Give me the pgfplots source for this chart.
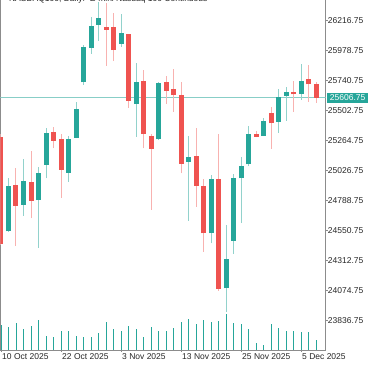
\documentclass[border=0pt]{standalone}
\usepackage{pgfplots}
\pgfplotsset{compat=1.18}
\usepackage{pgfplotstable}
\usepackage{fontspec}
\setmainfont{Liberation Sans}
\definecolor{upc}{HTML}{26A69A}
\definecolor{dnc}{HTML}{EF5350}
\definecolor{frame}{HTML}{8C8C8C}

% up candles: index, open, high, low, close
\pgfplotstableread{
i o h l c
1 24546 24966 24544 24908
3 24755 25120 24670 24947
5 24794 25054 24416 25011
6 25074 25368 24966 25323
9 25011 25300 24940 25278
10 25289 25574 25284 25514
11 25728 26020 25707 26010
12 26003 26244 25953 26177
13 26183 26365 26058 26236
16 26032 26270 26011 26117
18 25554 25884 25297 25733
21 25276 25733 25270 25720
25 25098 25302 24630 25133
28 24530 24993 24451 24959
30 24094 24596 23908 24326
31 24469 24998 24366 24966
32 24966 25138 24610 25066
33 25077 25381 25064 25316
35 25302 25447 25302 25423
37 25416 25673 25328 25609
38 25622 25688 25423 25649
40 25635 25873 25588 25738
}\up

% down candles: index, open, high, low, close
\pgfplotstableread{
i o h l c
0 25294 25318 24440 24445
2 24916 25046 24429 24749
4 24940 25183 24649 24789
7 25331 25376 25204 25265
8 25276 25318 24813 25035
14 26164 26357 25860 26143
15 26164 26275 25897 25984
17 26111 26115 25527 25582
19 25741 25826 25204 25316
20 25302 25318 24715 25201
22 25728 25778 25556 25661
23 25673 25834 25495 25627
24 25627 25728 25006 25080
26 25143 25368 24741 24908
27 24905 24961 24384 24530
29 24961 25316 24075 24088
34 25316 25342 25292 25297
36 25482 25535 25199 25403
39 25654 25738 25495 25633
41 25752 25865 25574 25712
42 25715 25733 25566 25606.75
}\dn

% volume (arbitrary units)
\pgfplotstableread{
i v
0 250
1 233
2 273
3 210
4 243
5 300
6 143
7 130
8 193
9 193
10 143
11 133
12 133
13 167
14 283
15 213
16 187
17 240
18 207
19 127
20 233
21 187
22 193
23 220
24 283
25 310
26 260
27 300
28 283
29 293
30 360
31 273
32 263
33 213
34 73
35 50
36 260
37 220
38 187
39 193
40 180
41 180
42 100
}\vol

\begin{document}
\begin{tikzpicture}
\pgfplotsset{
  base/.style={
    scale only axis, width=325.2pt, height=362pt,
    xmin=-0.0667, xmax=43.293,
    at={(0,0)}, anchor=south west,
  },
  candle/.style 2 args={draw=none, mark=none, forget plot,
    error bars/.cd, y dir=plus, y explicit, error mark=none,
    error bar style={draw=#1, line width=#2}},
}
% volume
\begin{axis}[base, hide axis, ymin=0, ymax=3620]
\addplot[ycomb, mark=none, draw=upc, line width=1pt] table[x=i,y=v] {\vol};
\end{axis}
% price
\begin{axis}[base,
  ymin=23604.3, ymax=26476.2,
  clip mode=individual,
  axis line style={draw=frame, line width=0.8pt},
  ytick={23836.75,24074.75,24312.75,24550.75,24788.75,25026.75,25264.75,25502.75,25740.75,25978.75,26216.75},
  yticklabels={23836.75,24074.75,24312.75,24550.75,24788.75,25026.75,25264.75,25502.75,25740.75,25978.75,26216.75},
  yticklabel pos=right,
  ytick pos=right,
  xtick={0,8,16,24,32,40},
  xticklabels={10 Oct 2025,22 Oct 2025,3 Nov 2025,13 Nov 2025,25 Nov 2025,5 Dec 2025},
  xtick pos=bottom,
  tick align=outside,
  major tick length=2pt,
  tick style={draw=frame, line width=0.6pt},
  ticklabel style={font=\fontsize{8.5}{10}\selectfont, text=black!85, inner sep=0pt},
  yticklabel style={anchor=west, xshift=0pt},
  xticklabel style={anchor=north west, xshift=1pt, yshift=-1pt},
]
% current price line
\addplot[draw=upc!55!white, line width=0.8pt, mark=none, forget plot] coordinates {(-1,25606.75) (44,25606.75)};
% wicks
\addplot[candle={upc!50!white}{1pt}]
  table[x=i, y=l, y error expr=\thisrow{h}-\thisrow{l}] {\up};
\addplot[candle={dnc!45!white}{1pt}]
  table[x=i, y=l, y error expr=\thisrow{h}-\thisrow{l}] {\dn};
% bodies
\addplot[candle={upc}{5pt}]
  table[x=i, y=o, y error expr=\thisrow{c}-\thisrow{o}] {\up};
\addplot[candle={dnc}{5pt}]
  table[x=i, y=c, y error expr=\thisrow{o}-\thisrow{c}] {\dn};
% price tag
\node[anchor=west, fill=upc, text=white, font=\fontsize{8.5}{10}\selectfont,
  inner xsep=3pt, inner ysep=0pt, minimum height=10pt, xshift=1pt] at (axis cs:43.293,25606.75) {25606.75};
% title
\node[anchor=base west, font=\fontsize{8.5}{10}\selectfont, text=black!85] at (rel axis cs:0,1) [xshift=5pt, yshift=-14pt] {NASDAQ100, Daily:\ \ E-mini Nasdaq 100 Continuous};
\end{axis}
\pgfresetboundingbox
\useasboundingbox (-0.5pt,-16pt) rectangle (374.5pt,350pt);
\end{tikzpicture}
\end{document}
